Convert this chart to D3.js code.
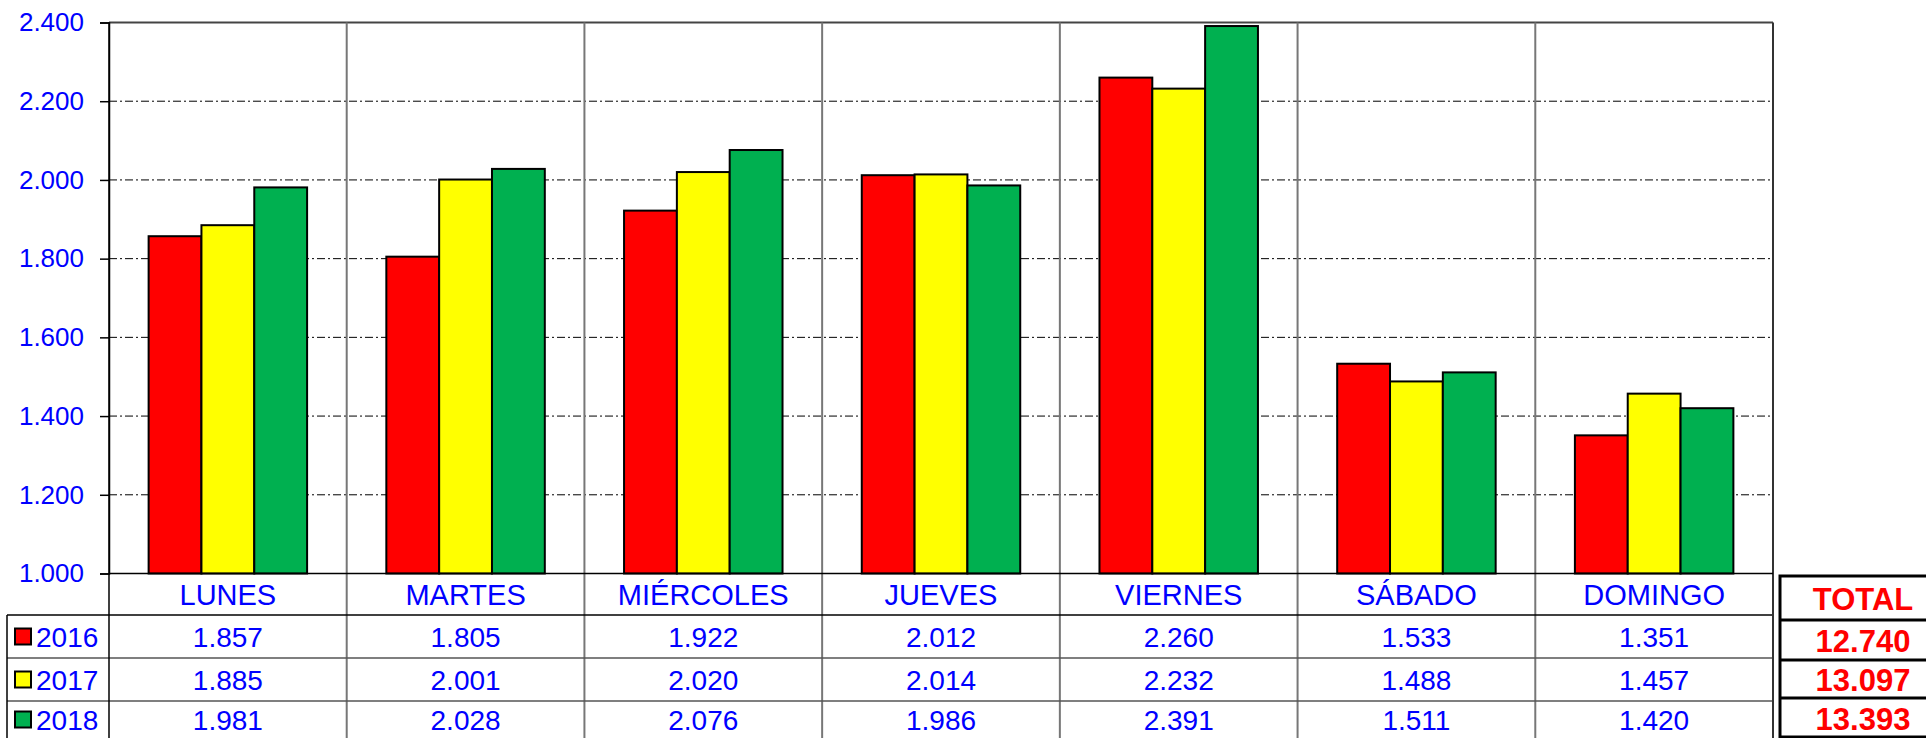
<!DOCTYPE html>
<html>
<head>
<meta charset="utf-8">
<script src="https://cdn.jsdelivr.net/npm/d3@7"></script>
<style>
  body { margin: 0; background: #fff; }
  text { font-family: "Liberation Sans", Arial, sans-serif; }
</style>
</head>
<body>
<div id="chart"></div>
<script>
// data
const days = ["LUNES", "MARTES", "MIÉRCOLES", "JUEVES", "VIERNES", "SÁBADO", "DOMINGO"];
const years = ["2016", "2017", "2018"];
const values2016 = [1857, 1805, 1922, 2012, 2260, 1533, 1351];
const values2017 = [1885, 2001, 2020, 2014, 2232, 1488, 1457];
const values2018 = [1981, 2028, 2076, 1986, 2391, 1511, 1420];
const totals = [12740, 13097, 13393];
const yTicks = [1000, 1200, 1400, 1600, 1800, 2000, 2200, 2400];
const colors = ["#FF0000", "#FFFF00", "#00B050"];

const series = [values2016, values2017, values2018];

const canvWidth = 1926, canvHeight = 738;
const svg = d3.select("#chart").append("svg")
    .attr("width", canvWidth)
    .attr("height", canvHeight);

const plot = {left: 109, right: 1773, top: 22.5, bottom: 573.5};
const rowY = [573.5, 615, 658, 701, 744];  // table row boundaries

const es = d3.formatLocale({decimal: ",", thousands: ".", grouping: [3], currency: ["", "€"]});
const fmt = es.format(",d");

const y = d3.scaleLinear().domain([1000, 2400]).range([plot.bottom, plot.top]);
const x0 = d3.scaleBand().domain(days).range([plot.left, plot.right]);
const x1 = d3.scaleBand().domain(years).range([0, x0.bandwidth()]).paddingOuter(0.75);

// dash-dot gridlines
svg.append("g")
  .selectAll("line")
  .data(yTicks.filter(d => d > 1000))
  .join("line")
    .attr("x1", plot.left).attr("x2", plot.right)
    .attr("y1", d => y(d)).attr("y2", d => y(d))
    .attr("stroke", d => d === 2400 ? "#444" : "#000")
    .attr("stroke-width", d => d === 2400 ? 2 : 1)
    .attr("stroke-dasharray", d => d === 2400 ? null : "8,3,2,3");

// category separators, through the table
svg.append("g")
  .selectAll("line")
  .data(days.slice(1))
  .join("line")
    .attr("x1", d => x0(d)).attr("x2", d => x0(d))
    .attr("y1", plot.top).attr("y2", canvHeight)
    .attr("stroke", "#777")
    .attr("stroke-width", 2);

// table row lines
svg.append("g")
  .selectAll("line")
  .data(rowY.slice(1, 4))
  .join("line")
    .attr("x1", 7).attr("x2", plot.right)
    .attr("y1", d => d).attr("y2", d => d)
    .attr("stroke", d => d === 615 ? "#000" : "#555")
    .attr("stroke-width", 1.5);

svg.append("line")
  .attr("x1", 7).attr("x2", 7).attr("y1", 615).attr("y2", canvHeight)
  .attr("stroke", "#000").attr("stroke-width", 1.5);
svg.append("line")
  .attr("x1", plot.left).attr("x2", plot.left).attr("y1", plot.top).attr("y2", canvHeight)
  .attr("stroke", "#000").attr("stroke-width", 1.5);
svg.append("line")
  .attr("x1", plot.right).attr("x2", plot.right).attr("y1", plot.top).attr("y2", canvHeight)
  .attr("stroke", "#333").attr("stroke-width", 2);

// bars
const groups = svg.append("g")
  .selectAll("g")
  .data(days)
  .join("g")
    .attr("transform", d => `translate(${x0(d)},0)`);

groups.selectAll("rect")
  .data((d, i) => years.map((yr, j) => ({yr, v: series[j][i], c: colors[j]})))
  .join("rect")
    .attr("x", d => x1(d.yr))
    .attr("y", d => y(d.v))
    .attr("width", x1.bandwidth())
    .attr("height", d => y(1000) - y(d.v))
    .attr("fill", d => d.c)
    .attr("stroke", "#000")
    .attr("stroke-width", 2);

// y axis
const yAxis = svg.append("g")
    .attr("transform", `translate(${plot.left},0)`)
    .call(d3.axisLeft(y).tickValues(yTicks).tickFormat(fmt).tickSize(9).tickPadding(16));
yAxis.select(".domain").attr("stroke", "#000").attr("stroke-width", 1.5);
yAxis.selectAll(".tick line").attr("stroke", "#000").attr("stroke-width", 1.5);
yAxis.selectAll(".tick text")
    .attr("fill", "#0000FF")
    .style("font-size", "26px");

// baseline at 1.000
svg.append("line")
  .attr("x1", plot.left).attr("x2", plot.right)
  .attr("y1", y(1000)).attr("y2", y(1000))
  .attr("stroke", "#000").attr("stroke-width", 1.5);

// category labels
svg.append("g")
  .selectAll("text")
  .data(days)
  .join("text")
    .attr("x", d => x0(d) + x0.bandwidth() / 2)
    .attr("y", (rowY[0] + rowY[1]) / 2)
    .attr("dy", "0.36em")
    .attr("text-anchor", "middle")
    .attr("fill", "#0000FF")
    .style("font-size", "29px")
    .text(d => d);

// table values
years.forEach((yr, j) => {
  const cy = (rowY[j + 1] + rowY[j + 2]) / 2;
  const ry = j === 2 ? 719.5 : cy;
  svg.append("g")
    .selectAll("text")
    .data(series[j])
    .join("text")
      .attr("x", (d, i) => x0(days[i]) + x0.bandwidth() / 2)
      .attr("y", ry)
      .attr("dy", "0.36em")
      .attr("text-anchor", "middle")
      .attr("fill", "#0000FF")
      .style("font-size", "28px")
      .text(d => fmt(d));

  svg.append("rect")
    .attr("x", 15).attr("y", ry - 8)
    .attr("width", 16).attr("height", 16)
    .attr("fill", colors[j])
    .attr("stroke", "#000").attr("stroke-width", 2);
  svg.append("text")
    .attr("x", 36).attr("y", ry)
    .attr("dy", "0.36em")
    .attr("fill", "#0000FF")
    .style("font-size", "28px")
    .text(yr);
});

// total box
const totalRows = [576, 620, 660, 698, 737];
const tb = {left: 1780, width: 166};
svg.append("rect")
  .attr("x", tb.left).attr("y", totalRows[0])
  .attr("width", tb.width).attr("height", totalRows[4] - totalRows[0])
  .attr("fill", "#fff").attr("stroke", "#000").attr("stroke-width", 3);
svg.append("g")
  .selectAll("line")
  .data(totalRows.slice(1, 4))
  .join("line")
    .attr("x1", tb.left).attr("x2", tb.left + tb.width)
    .attr("y1", d => d).attr("y2", d => d)
    .attr("stroke", "#000").attr("stroke-width", 3);

const totalLabels = ["TOTAL"].concat(totals.map(fmt));
svg.append("g")
  .selectAll("text")
  .data(totalLabels)
  .join("text")
    .attr("x", 1863)
    .attr("y", (d, i) => (totalRows[i] + totalRows[i + 1]) / 2 + 1)
    .attr("dy", "0.36em")
    .attr("text-anchor", "middle")
    .attr("fill", "#FF0000")
    .style("font-size", "31px")
    .style("font-weight", "bold")
    .text(d => d);
</script>
</body>
</html>
